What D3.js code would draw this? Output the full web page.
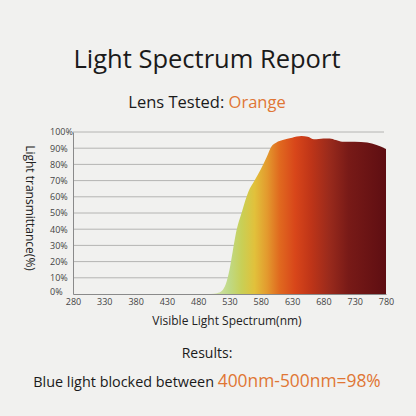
<!DOCTYPE html>
<html>
  <head>
    <script src="https://cdn.jsdelivr.net/npm/d3@7"></script>
    <style>
      body { margin: 0; background: #f1f1ef; }
      text { font-family: "Open Sans", sans-serif; }
    </style>
  </head>
  <body>
    <script>
// light transmission curve of the lens, drawn as a gradient area
var width = 416;
var height = 416;

var wavelengths = [280, 500, 510, 518, 524, 530, 535, 540, 550, 560, 570, 580, 590, 597, 605, 615, 630, 645, 655, 665, 680, 690, 700, 710, 730, 750, 765, 780];
var transmittance = [0, 0, 0.5, 2, 6, 15, 26, 37, 51, 63, 70, 77, 85, 91, 93.5, 95, 96.5, 97.5, 97, 95.5, 96, 96, 95, 94, 94, 93.5, 92, 89.5];

var xTicks = [280, 330, 380, 430, 480, 530, 580, 630, 680, 730, 780];
var yTicks = [0, 10, 20, 30, 40, 50, 60, 70, 80, 90, 100];

// colour of the fill along the spectrum
var stopNm = [505, 530, 550, 570, 590, 610, 635, 660, 690, 720, 780];
var stopColor = ["#d6e4ad", "#bfd985", "#c9cf55", "#e1c13b", "#e39a2e", "#e0691f", "#d8461a", "#bf3518", "#992a1c", "#781a17", "#5e0e12"];

var orange = "#e07634";

var svg = d3.select("body").append("svg")
  .attr("width", width)
  .attr("height", height);

var x = d3.scaleLinear().domain([280, 780]).range([73, 386]);
var y = d3.scaleLinear().domain([0, 100]).range([294, 132]);

// Title
svg.append("text")
  .attr("x", 207).attr("y", 68)
  .attr("text-anchor", "middle")
  .attr("font-size", 25.5)
  .attr("fill", "#1a1a1a")
  .text("Light Spectrum Report");

var sub = svg.append("text")
  .attr("x", 207).attr("y", 108)
  .attr("text-anchor", "middle")
  .attr("font-size", 16.5)
  .attr("fill", "#1a1a1a");
sub.append("tspan").text("Lens Tested: ");
sub.append("tspan").attr("fill", orange).text("Orange");

// gradient
var grad = svg.append("defs").append("linearGradient")
  .attr("id", "spec")
  .attr("gradientUnits", "userSpaceOnUse")
  .attr("x1", x(280)).attr("x2", x(780))
  .attr("y1", 0).attr("y2", 0);
grad.selectAll("stop")
  .data(stopNm)
  .join("stop")
  .attr("offset", d => (d - 280) / 500)
  .attr("stop-color", (d, i) => stopColor[i]);

// gridlines
svg.append("g")
  .selectAll("line")
  .data(yTicks.filter(d => d > 0))
  .join("line")
  .attr("x1", x(280)).attr("x2", x(780) - 2)
  .attr("y1", d => y(d)).attr("y2", d => y(d))
  .attr("stroke", "#b4b4b2")
  .attr("stroke-width", 1);

// area
var data = wavelengths.map((w, i) => ({ w: w, t: transmittance[i] }));
var area = d3.area()
  .x(d => x(d.w))
  .y0(y(0))
  .y1(d => y(d.t))
  .curve(d3.curveMonotoneX);

svg.append("path")
  .datum(data)
  .attr("d", area)
  .attr("fill", "url(#spec)");

// axes
var xAxis = svg.append("g")
  .attr("transform", "translate(0," + y(0) + ")")
  .call(d3.axisBottom(x).tickValues(xTicks).tickSize(0).tickPadding(5));
xAxis.select(".domain").attr("stroke", "#8a8a8a");
xAxis.selectAll("text").attr("font-size", 9).attr("fill", "#444")
  .style("font-family", "'Open Sans', sans-serif");

// y labels are left aligned in the reference
var yAxis = svg.append("g")
  .attr("transform", "translate(" + x(280) + ",0)")
  .call(d3.axisLeft(y).tickValues(yTicks).tickSize(0).tickFormat(d => d + "%"));
yAxis.select(".domain").attr("stroke", "#8a8a8a");
yAxis.selectAll("text")
  .attr("x", 50 - x(280))
  .attr("text-anchor", "start")
  .attr("dy", d => d === 0 ? "0.1em" : "0.32em")
  .attr("font-size", 9).attr("fill", "#444")
  .style("font-family", "'Open Sans', sans-serif");

// axis labels
svg.append("text")
  .attr("x", 227).attr("y", 325)
  .attr("text-anchor", "middle")
  .attr("font-size", 12)
  .attr("fill", "#222")
  .text("Visible Light Spectrum(nm)");

svg.append("text")
  .attr("transform", "translate(26,208) rotate(90)")
  .attr("text-anchor", "middle")
  .attr("font-size", 12)
  .attr("fill", "#222")
  .text("Light transmittance(%)");

// results
svg.append("text")
  .attr("x", 207).attr("y", 358)
  .attr("text-anchor", "middle")
  .attr("font-size", 14)
  .attr("fill", "#1a1a1a")
  .text("Results:");

var res = svg.append("text")
  .attr("x", 207).attr("y", 387)
  .attr("text-anchor", "middle")
  .attr("fill", "#1a1a1a");
res.append("tspan").attr("font-size", 14.4).text("Blue light blocked between ");
res.append("tspan").attr("font-size", 17.4).attr("fill", orange).text("400nm-500nm=98%");
</script>
  </body>
</html>
